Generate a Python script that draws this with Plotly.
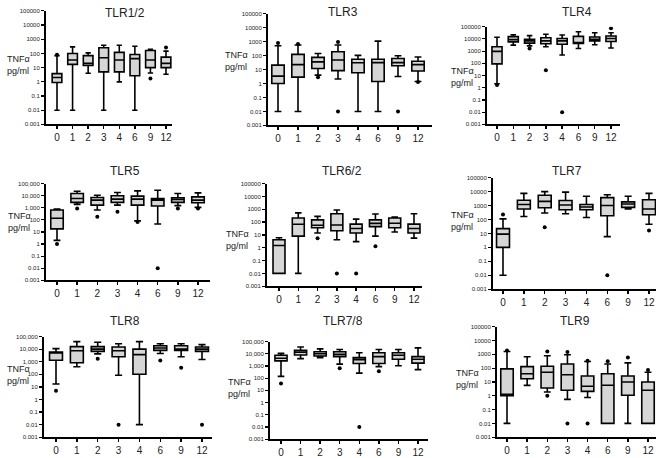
import plotly.graph_objects as go

W, H = 661, 458

categories = ["0", "1", "2", "3", "4", "6", "9", "12"]
ytick_vals = [0.001, 0.01, 0.1, 1, 10, 100, 1000, 10000, 100000]
ytick_plain = ["0.001", "0.01", "0.1", "1", "10", "100", "1000", "10000", "100000"]
ytick_comma = ["0.001", "0.01", "0.1", "1", "10", "100", "1,000", "10,000", "100,000"]

# ---- TLR1/2 ----
tlr12_low = [0.01, 0.01, 4, 0.01, 1, 0.01, 4.2, 3.4]
tlr12_q1 = [0.9, 17, 14, 5, 5, 2.7, 10, 10]
tlr12_med = [2, 35, 20, 50, 35, 43, 35, 20]
tlr12_q3 = [3.8, 100, 70, 250, 120, 85, 160, 55]
tlr12_up = [70, 290, 110, 380, 380, 320, 200, 145]
tlr12_out_x = [0, 6, 7]
tlr12_out_y = [80, 1.7, 260]

# ---- TLR3 ----
tlr3_low = [0.01, 0.01, 4, 2.1, 0.01, 0.01, 3.2, 1.4]
tlr3_q1 = [1, 2.9, 12, 8.5, 6, 1.4, 19, 8]
tlr3_med = [3.4, 23, 36, 49, 31, 32, 32, 23]
tlr3_q3 = [21, 125, 76, 190, 55, 55, 62, 40]
tlr3_up = [520, 580, 145, 580, 105, 1100, 100, 80]
tlr3_out_x = [0, 1, 2, 3, 3, 6, 7]
tlr3_out_y = [800, 700, 2.8, 950, 0.01, 0.01, 1.3]

# ---- TLR4 ----
tlr4_low = [2.1, 3100, 2700, 2300, 480, 1650, 3300, 1800]
tlr4_q1 = [90, 5700, 4500, 4000, 3700, 4200, 6900, 6100]
tlr4_med = [950, 8800, 6900, 6900, 6900, 4400, 9400, 10700]
tlr4_q3 = [2300, 15500, 9400, 12500, 10700, 16000, 14500, 17500]
tlr4_up = [13500, 22000, 18500, 24000, 21000, 39000, 32000, 32000]
tlr4_out_x = [0, 2, 3, 4, 7]
tlr4_out_y = [1.7, 1600, 27, 0.01, 74000]

# ---- TLR5 ----
tlr5_low = [2, 1900, 650, 1650, 82, 45, 1500, 1070]
tlr5_q1 = [18, 2800, 1650, 2800, 1650, 1400, 2800, 2600]
tlr5_med = [135, 5900, 4300, 5200, 5200, 4300, 4900, 4300]
tlr5_q3 = [650, 15000, 7100, 10000, 9200, 5900, 6700, 8000]
tlr5_up = [780, 23000, 11000, 18500, 25000, 28000, 15000, 17000]
tlr5_out_x = [0, 1, 2, 3, 4, 5, 6, 7]
tlr5_out_y = [1, 890, 185, 480, 68, 0.01, 890, 890]

# ---- TLR6/2 ----
tlr62_low = [0.01, 0.01, 14, 4.2, 3, 8, 17, 5.6]
tlr62_q1 = [0.01, 8, 36, 21, 14, 44, 36, 14]
tlr62_med = [1.5, 67, 56, 59, 32, 80, 82, 32]
tlr62_q3 = [4.2, 210, 150, 450, 70, 150, 210, 70]
tlr62_up = [6, 520, 280, 880, 170, 430, 250, 450]
tlr62_out_x = [2, 3, 4, 5]
tlr62_out_y = [5.6, 0.01, 0.01, 1.3]

# ---- TLR7 ----
tlr7_low = [0.01, 165, 290, 260, 140, 5.9, 560, 46]
tlr7_q1 = [1, 560, 690, 500, 500, 185, 740, 220]
tlr7_med = [9, 1200, 2000, 1100, 780, 1000, 1300, 560]
tlr7_q3 = [22, 2400, 5500, 2300, 1200, 3700, 1850, 2600]
tlr7_up = [110, 7500, 10000, 9200, 4600, 6000, 4600, 7500]
tlr7_out_x = [0, 2, 5, 7]
tlr7_out_y = [230, 28, 0.01, 16]

# ---- TLR8 ----
tlr8_low = [17, 400, 4200, 85, 0.01, 4500, 2500, 1500]
tlr8_q1 = [1300, 830, 6700, 2500, 100, 8000, 8000, 6700]
tlr8_med = [5000, 7500, 10000, 7500, 3700, 12500, 10000, 10000]
tlr8_q3 = [6000, 16000, 16000, 15000, 10000, 18500, 18500, 15000]
tlr8_up = [11000, 40000, 35000, 27000, 40000, 27000, 27000, 23000]
tlr8_out_x = [0, 2, 3, 5, 6, 7]
tlr8_out_y = [5, 1700, 0.01, 1250, 340, 0.01]

# ---- TLR7/8 ----
tlr78_low = [140, 4000, 4800, 1400, 260, 870, 1050, 500]
tlr78_q1 = [2600, 7800, 6500, 5800, 1600, 1600, 3500, 1700]
tlr78_med = [4300, 13500, 10000, 8900, 3300, 5800, 7400, 3500]
tlr78_q3 = [7400, 19500, 14500, 14500, 4800, 12000, 12000, 5800]
tlr78_up = [10700, 36000, 25000, 22000, 12000, 22000, 22000, 30000]
tlr78_out_x = [0, 3, 4, 5]
tlr78_out_y = [36, 650, 0.01, 370]

# ---- TLR9 ----
tlr9_low = [0.01, 5.7, 1.9, 0.55, 0.75, 0.01, 0.01, 0.01]
tlr9_q1 = [1, 17, 3.7, 2.5, 2.1, 0.01, 1.1, 0.01]
tlr9_med = [1.3, 39, 51, 33, 4.9, 5.8, 10, 2.5]
tlr9_q3 = [89, 130, 138, 200, 27, 39, 27, 10]
tlr9_up = [1600, 670, 790, 930, 300, 200, 240, 51]
tlr9_out_x = [0, 2, 2, 3, 3, 4, 4, 5, 6, 7]
tlr9_out_y = [1900, 1600, 1, 1500, 0.01, 0.01, 340, 310, 600, 75]

panels = [
    ("TLR1/2", tlr12_low, tlr12_q1, tlr12_med, tlr12_q3, tlr12_up, tlr12_out_x, tlr12_out_y, ytick_plain),
    ("TLR3", tlr3_low, tlr3_q1, tlr3_med, tlr3_q3, tlr3_up, tlr3_out_x, tlr3_out_y, ytick_plain),
    ("TLR4", tlr4_low, tlr4_q1, tlr4_med, tlr4_q3, tlr4_up, tlr4_out_x, tlr4_out_y, ytick_plain),
    ("TLR5", tlr5_low, tlr5_q1, tlr5_med, tlr5_q3, tlr5_up, tlr5_out_x, tlr5_out_y, ytick_comma),
    ("TLR6/2", tlr62_low, tlr62_q1, tlr62_med, tlr62_q3, tlr62_up, tlr62_out_x, tlr62_out_y, ytick_plain),
    ("TLR7", tlr7_low, tlr7_q1, tlr7_med, tlr7_q3, tlr7_up, tlr7_out_x, tlr7_out_y, ytick_plain),
    ("TLR8", tlr8_low, tlr8_q1, tlr8_med, tlr8_q3, tlr8_up, tlr8_out_x, tlr8_out_y, ytick_comma),
    ("TLR7/8", tlr78_low, tlr78_q1, tlr78_med, tlr78_q3, tlr78_up, tlr78_out_x, tlr78_out_y, ytick_comma),
    ("TLR9", tlr9_low, tlr9_q1, tlr9_med, tlr9_q3, tlr9_up, tlr9_out_x, tlr9_out_y, ytick_plain),
]

# layout geometry (pixels): axis x0, x1, y top, y bottom, first cat px, last cat px,
# title (x, y), y-label (x, y)
geom = [
    (46, 172, 8, 123, 57, 166, 125, 10, 5, 63),
    (268, 432, 11, 124, 278, 418, 343, 9, 223, 59),
    (487, 620, 24, 123, 497, 611, 577, 9, 449, 75),
    (46, 210, 183, 281, 57, 198, 125, 170, 6, 222),
    (267, 422, 183, 287, 279, 414, 342, 170, 224, 240),
    (493, 656, 177, 290, 503, 649, 567, 170, 449, 221),
    (44, 212, 338, 440, 56, 202, 125, 322, 5, 377),
    (270, 428, 343, 442, 281, 418, 343, 322, 226, 390),
    (497, 656, 328, 440, 507, 648, 575, 322, 454, 381),
]

FONT = "Liberation Sans, Arial, sans-serif"

fig = go.Figure()
layout = dict(
    width=W, height=H, margin=dict(l=0, r=0, t=0, b=0),
    paper_bgcolor="white", plot_bgcolor="white", showlegend=False,
    font=dict(family=FONT, color="#222"),
)
annotations = []

for i, (p, g) in enumerate(zip(panels, geom), start=1):
    title, low, q1, med, q3, up, ox, oy, yt = p
    x0, x1, yt_px, yb_px, c0, c7, tx, ty, lx, ly = g
    sp = (c7 - c0) / 7.0
    r0 = -(c0 - x0) / sp
    r1 = 7 + (x1 - c7) / sp
    xa = "x" if i == 1 else f"x{i}"
    ya = "y" if i == 1 else f"y{i}"
    fig.add_trace(go.Box(
        x=list(range(len(categories))), q1=q1, median=med, q3=q3,
        lowerfence=low, upperfence=up, xaxis=xa, yaxis=ya,
        fillcolor="#d6d6d6", line=dict(color="black", width=1.6),
        width=0.62, whiskerwidth=0.55, boxpoints=False, hoverinfo="skip",
    ))
    fig.add_trace(go.Scatter(
        x=ox, y=oy, mode="markers", xaxis=xa, yaxis=ya,
        marker=dict(color="black", size=4), hoverinfo="skip",
    ))
    layout["xaxis" if i == 1 else f"xaxis{i}"] = dict(
        domain=[x0 / W, x1 / W], anchor=ya, range=[r0, r1],
        tickvals=list(range(len(categories))), ticktext=categories,
        showline=True, linecolor="black", linewidth=2, ticks="outside",
        ticklen=3, tickwidth=1.5, tickcolor="black", showgrid=False, zeroline=False,
        tickfont=dict(size=10, family=FONT, color="#222"),
    )
    layout["yaxis" if i == 1 else f"yaxis{i}"] = dict(
        domain=[1 - yb_px / H, 1 - yt_px / H], anchor=xa, type="log", range=[-3, 5],
        tickvals=ytick_vals, ticktext=yt,
        showline=True, linecolor="black", linewidth=2, ticks="outside",
        ticklen=3, tickwidth=1.2, tickcolor="black", showgrid=False, zeroline=False,
        ticklabelstandoff=0,
        tickfont=dict(size=6, family=FONT, color="#222"),
    )
    annotations.append(dict(
        text=title, x=tx / W, y=1 - ty / H, xref="paper", yref="paper",
        showarrow=False, xanchor="center", yanchor="middle",
        font=dict(size=12, family=FONT, color="#222"),
    ))
    annotations.append(dict(
        text="TNF\u03b1<br>pg/ml", x=lx / W, y=1 - ly / H, xref="paper", yref="paper",
        showarrow=False, xanchor="left", yanchor="middle", align="left",
        font=dict(size=9, family=FONT, color="#222"),
    ))

layout["annotations"] = annotations
fig.update_layout(**layout)
fig.write_html(
    "out.html",
    config={"displayModeBar": False, "staticPlot": True},
    post_script="document.body.style.margin='0';document.body.style.padding='0';",
)
